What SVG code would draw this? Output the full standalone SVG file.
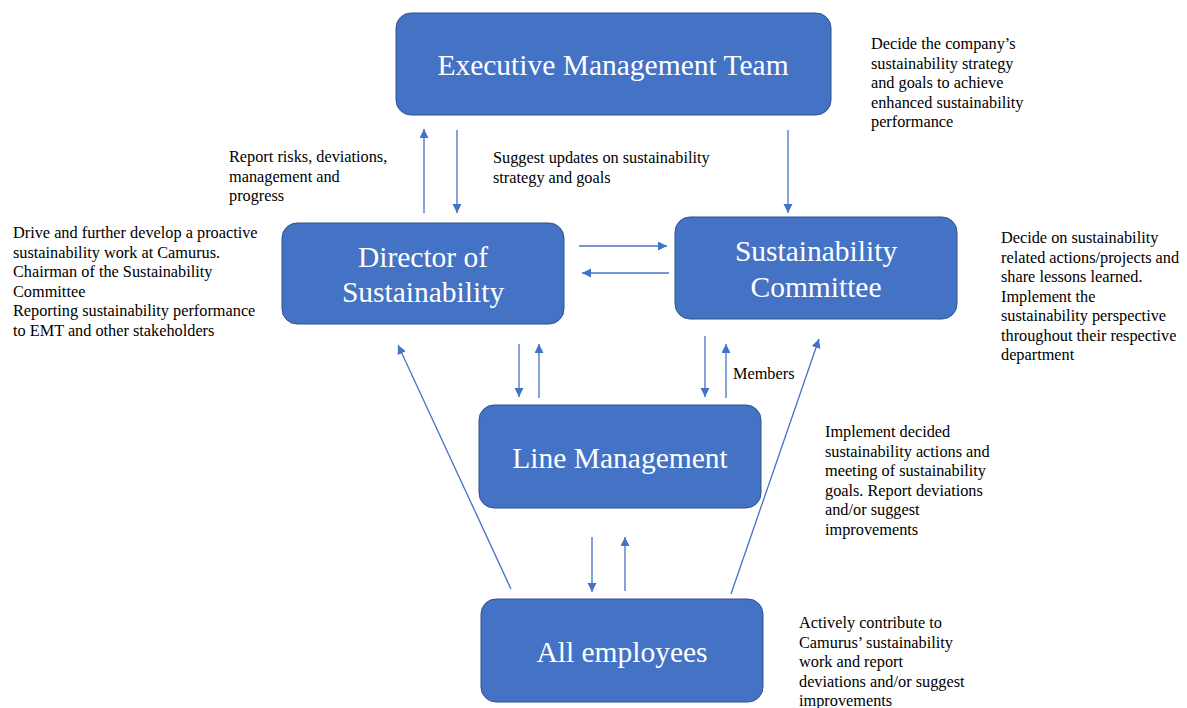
<svg xmlns="http://www.w3.org/2000/svg" width="1187" height="708" viewBox="0 0 1187 708">
<style>
.box{fill:#4472C4;stroke:#2F528F;stroke-width:1}
.nt{font-family:'Liberation Serif','DejaVu Serif',serif;font-size:29.5px;fill:#ffffff;text-anchor:middle}
.an{font-family:'Liberation Serif','DejaVu Serif',serif;font-size:16.3px;fill:#000000}
.cn{stroke:#4472C4;stroke-width:1.3;fill:none;marker-end:url(#ah)}
</style>
<defs>
<marker id="ah" markerUnits="userSpaceOnUse" markerWidth="10" markerHeight="10" refX="9" refY="4.5" orient="auto">
<path d="M0,0 L9,4.5 L0,9 z" fill="#4472C4"/>
</marker>
</defs>
<rect width="1187" height="708" fill="#ffffff"/>
<g id="connectors">
<line class="cn" x1="424" y1="213" x2="424" y2="129"/>
<line class="cn" x1="457" y1="130" x2="457" y2="213"/>
<line class="cn" x1="788" y1="130" x2="788" y2="213"/>
<line class="cn" x1="579" y1="246" x2="667" y2="246"/>
<line class="cn" x1="669" y1="273" x2="582" y2="273"/>
<line class="cn" x1="519" y1="344" x2="519" y2="397"/>
<line class="cn" x1="539" y1="398" x2="539" y2="344"/>
<line class="cn" x1="705" y1="336" x2="705" y2="397"/>
<line class="cn" x1="726" y1="398" x2="726" y2="344"/>
<line class="cn" x1="592" y1="537" x2="592" y2="592"/>
<line class="cn" x1="625" y1="591" x2="625" y2="537"/>
<line class="cn" x1="511" y1="589" x2="398" y2="345"/>
<line class="cn" x1="731" y1="594" x2="819" y2="339"/>
</g>
<g id="emt">
<rect class="box" x="396" y="13" width="435" height="102" rx="15"/>
<text class="nt" x="613" y="75">Executive Management Team</text>
</g>
<g id="director">
<rect class="box" x="282" y="223" width="282" height="101" rx="15"/>
<text class="nt" x="423" y="267">Director of</text>
<text class="nt" x="423" y="302">Sustainability</text>
</g>
<g id="committee">
<rect class="box" x="675" y="217" width="282" height="102" rx="15"/>
<text class="nt" x="816" y="261">Sustainability</text>
<text class="nt" x="816" y="297">Committee</text>
</g>
<g id="linemgmt">
<rect class="box" x="479" y="405" width="282" height="103" rx="15"/>
<text class="nt" x="620" y="468">Line Management</text>
</g>
<g id="employees">
<rect class="box" x="481" y="599" width="282" height="103" rx="15"/>
<text class="nt" x="622" y="662">All employees</text>
</g>
<g id="annotations">
<text class="an" x="871" y="49">Decide the company’s</text>
<text class="an" x="871" y="68.5">sustainability strategy</text>
<text class="an" x="871" y="88">and goals to achieve</text>
<text class="an" x="871" y="107.5">enhanced sustainability</text>
<text class="an" x="871" y="127">performance</text>
<text class="an" x="229" y="162">Report risks, deviations,</text>
<text class="an" x="229" y="181.5">management and</text>
<text class="an" x="229" y="201">progress</text>
<text class="an" x="493" y="163">Suggest updates on sustainability</text>
<text class="an" x="493" y="182.5">strategy and goals</text>
<text class="an" x="13" y="238">Drive and further develop a proactive</text>
<text class="an" x="13" y="257.5">sustainability work at Camurus.</text>
<text class="an" x="13" y="277">Chairman of the Sustainability</text>
<text class="an" x="13" y="296.5">Committee</text>
<text class="an" x="13" y="316">Reporting sustainability performance</text>
<text class="an" x="13" y="335.5">to EMT and other stakeholders</text>
<text class="an" x="1001" y="243">Decide on sustainability</text>
<text class="an" x="1001" y="262.5">related actions/projects and</text>
<text class="an" x="1001" y="282">share lessons learned.</text>
<text class="an" x="1001" y="301.5">Implement the</text>
<text class="an" x="1001" y="321">sustainability perspective</text>
<text class="an" x="1001" y="340.5">throughout their respective</text>
<text class="an" x="1001" y="360">department</text>
<text class="an" x="733" y="379">Members</text>
<text class="an" x="825" y="437">Implement decided</text>
<text class="an" x="825" y="456.5">sustainability actions and</text>
<text class="an" x="825" y="476">meeting of sustainability</text>
<text class="an" x="825" y="495.5">goals. Report deviations</text>
<text class="an" x="825" y="515">and/or suggest</text>
<text class="an" x="825" y="534.5">improvements</text>
<text class="an" x="799" y="628">Actively contribute to</text>
<text class="an" x="799" y="647.5">Camurus’ sustainability</text>
<text class="an" x="799" y="667">work and report</text>
<text class="an" x="799" y="686.5">deviations and/or suggest</text>
<text class="an" x="799" y="706">improvements</text>
</g>
</svg>
